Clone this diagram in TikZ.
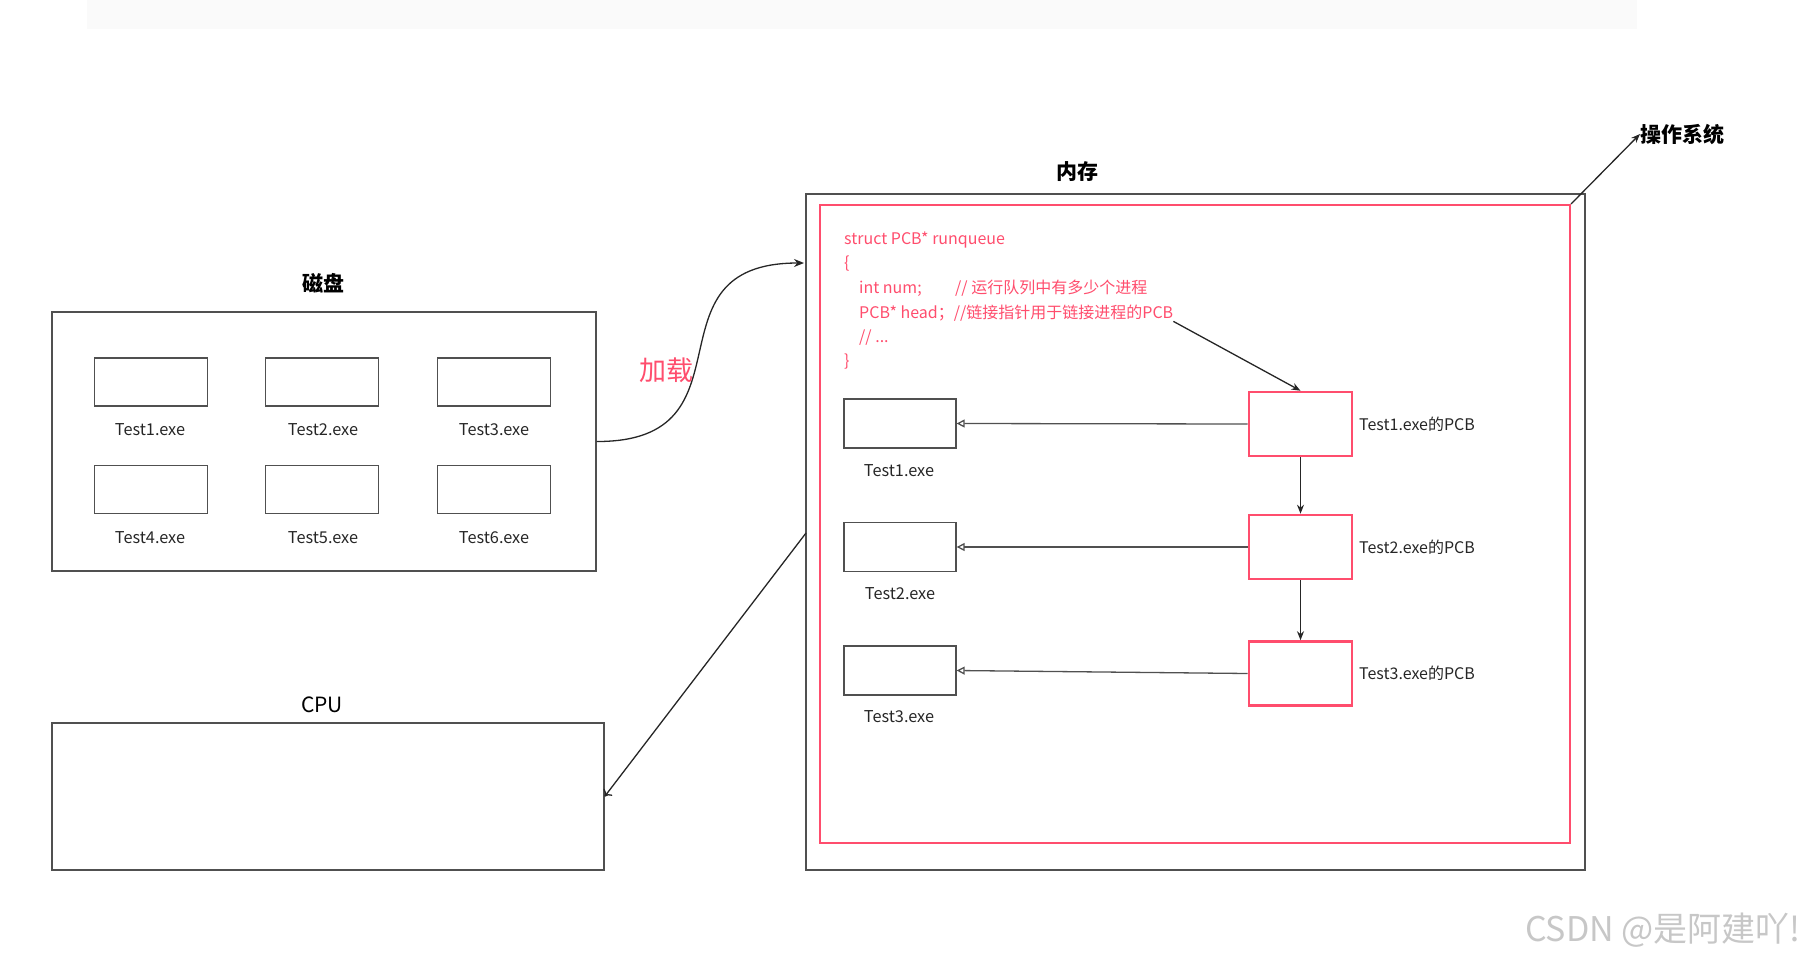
\documentclass[tikz,border=0pt]{standalone}
\usepackage{fontspec}
\setmainfont{Noto Sans CJK SC}
\usetikzlibrary{arrows.meta}
\definecolor{pcbred}{RGB}{255,77,109}
\definecolor{linegray}{RGB}{80,80,80}

\begin{document}
\begin{tikzpicture}[x=1pt,y=-1pt,
    box/.style={draw=linegray,line width=1.3pt,inner sep=0pt},
    filebox/.style={box,minimum width=113pt,minimum height=48pt},
    pcbbox/.style={draw=pcbred,line width=2.6pt,inner sep=0pt,minimum width=103pt,minimum height=64pt},
    small/.style={font=\fontsize{16.3}{19}\selectfont,text=black!85},
    code/.style={font=\fontsize{16}{19}\selectfont,text=pcbred,anchor=west,inner sep=0pt},
    title/.style={font=\bfseries\fontsize{21}{24}\selectfont},
    conn/.style={line width=1.3pt,draw=black!85}]
    \useasboundingbox (0,0) rectangle (1810,964);
    \fill[black!2] (87,0) rectangle (1637,29);

    % disk
    \node[title] (disklabel) at (323,283) {磁盘};
    \node[box,minimum width=544pt,minimum height=259pt] (disk) at (324,441.5) {};
    \node[filebox] (file1) at (151,382) {};
    \node[filebox] (file2) at (322,382) {};
    \node[filebox] (file3) at (494,382) {};
    \node[filebox] (file4) at (151,489.5) {};
    \node[filebox] (file5) at (322,489.5) {};
    \node[filebox] (file6) at (494,489.5) {};
    \node[small] (filelabel1) at (150,430) {Test1.exe};
    \node[small] (filelabel2) at (323,430) {Test2.exe};
    \node[small] (filelabel3) at (494,430) {Test3.exe};
    \node[small] (filelabel4) at (150,538) {Test4.exe};
    \node[small] (filelabel5) at (323,538) {Test5.exe};
    \node[small] (filelabel6) at (494,538) {Test6.exe};

    % cpu
    \node[font=\fontsize{21}{24}\selectfont] (cpulabel) at (322,705) {CPU};
    \node[box,minimum width=552pt,minimum height=147pt] (cpu) at (328,796.5) {};

    % memory
    \node[title] (memlabel) at (1077,172) {内存};
    \node[box,minimum width=779pt,minimum height=676pt] (mem) at (1195.5,532) {};
    \node[draw=pcbred,line width=2pt,inner sep=0pt,minimum width=750pt,minimum height=638pt] (os) at (1195,524) {};
    \node[title,anchor=west,inner sep=0pt] (oslabel) at (1640,134) {操作系统};

    % runqueue
    \node[code] (code1) at (844,240) {struct PCB* runqueue};
    \node[code] (code2) at (844,264) {\{};
    \node[code] (code3) at (859,288) {\makebox[96pt][l]{int num;}// 运行队列中有多少个进程};
    \node[code] (code4) at (859,313) {PCB* head；//链接指针用于链接进程的PCB};
    \node[code] (code5) at (859,338) {// ...};
    \node[code] (code6) at (844,362) {\}};

    % processes
    \node[filebox,minimum width=112pt,minimum height=49pt] (exe1) at (900,423.5) {};
    \node[filebox,minimum width=112pt,minimum height=49pt] (exe2) at (900,547) {};
    \node[filebox,minimum width=112pt,minimum height=49pt] (exe3) at (900,670.5) {};
    \node[small] (exelabel1) at (899,471) {Test1.exe};
    \node[small] (exelabel2) at (900,594) {Test2.exe};
    \node[small] (exelabel3) at (899,717) {Test3.exe};
    \node[pcbbox] (pcb1) at (1300.5,424) {};
    \node[pcbbox] (pcb2) at (1300.5,547) {};
    \node[pcbbox] (pcb3) at (1300.5,673.5) {};
    \node[small,anchor=west,inner sep=0pt,font=\fontsize{16}{19}\selectfont] (pcblabel1) at (1359,424) {Test1.exe的PCB};
    \node[small,anchor=west,inner sep=0pt,font=\fontsize{16}{19}\selectfont] (pcblabel2) at (1359,547) {Test2.exe的PCB};
    \node[small,anchor=west,inner sep=0pt,font=\fontsize{16}{19}\selectfont] (pcblabel3) at (1359,673.5) {Test3.exe的PCB};

    % connectors
    \coordinate (loadend) at (804,263);
    \coordinate (cpustart) at (806,533);
    \draw[conn,-{Stealth[length=10pt,width=8pt]}] (disk.east) .. controls (760,442) and (640,263) .. (loadend);
    \node[font=\fontsize{27}{30}\selectfont,text=pcbred] (loadlabel) at (666,370) {加载};
    \draw[conn,-{To[length=6pt,width=11pt]}] (cpustart) -- (cpu.east);
    \draw[conn,-{Stealth[length=9pt,width=7pt]}] (os.north east) -- (oslabel.west);
    \draw[conn,-{Stealth[length=9pt,width=7pt]}] (code4.south east) -- (pcb1.north);
    \draw[conn,-{Stealth[length=9pt,width=7pt]}] (pcb1.south) -- (pcb2.north);
    \draw[conn,-{Stealth[length=9pt,width=7pt]}] (pcb2.south) -- (pcb3.north);
    \draw[conn,draw=linegray,-{Triangle[open,length=8pt,width=8pt]}] (pcb1.west) -- (exe1.east);
    \draw[conn,draw=linegray,-{Triangle[open,length=8pt,width=8pt]}] (pcb2.west) -- (exe2.east);
    \draw[conn,draw=linegray,-{Triangle[open,length=8pt,width=8pt]}] (pcb3.west) -- (exe3.east);

    % watermark
    \node[font=\fontsize{34}{38}\selectfont,text=black!22,anchor=east,inner sep=0pt] (mark) at (1801,930) {CSDN @是阿建吖!};
\end{tikzpicture}
\end{document}
